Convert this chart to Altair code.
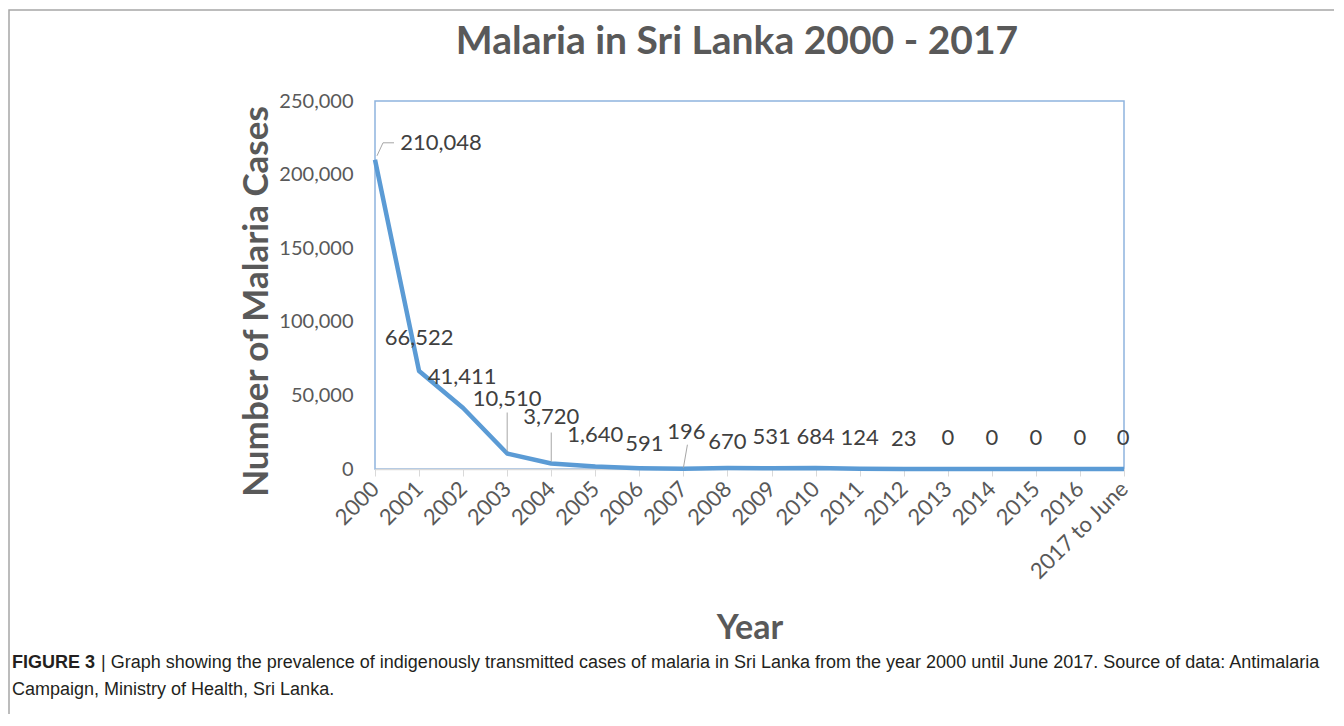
import altair as alt
import pandas as pd

# ---- data ----
years = ["2000", "2001", "2002", "2003", "2004", "2005", "2006", "2007", "2008",
         "2009", "2010", "2011", "2012", "2013", "2014", "2015", "2016", "2017 to June"]
cases = [210048, 66522, 41411, 10510, 3720, 1640, 591, 196, 670,
         531, 684, 124, 23, 0, 0, 0, 0, 0]
labels = ["210,048", "66,522", "41,411", "10,510", "3,720", "1,640", "591", "196", "670",
          "531", "684", "124", "23", "0", "0", "0", "0", "0"]
y_ticks = [0, 50000, 100000, 150000, 200000, 250000]
Y_MAX = 250000

# ---- label placement (pixel offsets from each point, styling only) ----
label_dx = [66, 0, -1, 0, 0, 0, 5, 3, 0, 0, 0, 0, 0, 0, 0, 0, 0, -1]
label_dy = [-17, -33, -31, -55, -47, -32, -24, -37, -26, -31, -31, -31, -30, -31, -31, -31, -31, -31]

# leader lines: (year, pixel offsets of vertices from the point)
leader_years = ["2000", "2003", "2004", "2007"]
leader_dx = [[2, 8, 19], [0, 0], [0, 0], [0, 4]]
leader_dy = [[-4, -17, -17], [-2, -41], [-2, -31], [-1, -24]]

title_text = "Malaria in Sri Lanka 2000 - 2017"
caption_bold = "FIGURE 3"
caption_line1 = "| Graph showing the prevalence of indigenously transmitted cases of malaria in Sri Lanka from the year 2000 until June 2017. Source of data: Antimalaria"
caption_line2 = "Campaign, Ministry of Health, Sri Lanka."

GRAY = "#595959"
W, H = 749, 368
PAD_L, PAD_T = 367, 93
PX = Y_MAX / H  # data units per pixel

df = pd.DataFrame({"year": years, "cases": cases, "label": labels,
                   "dx": label_dx, "dy": label_dy})

rows = []
for i, yr in enumerate(leader_years):
    v = cases[years.index(yr)]
    for k, (ox, oy) in enumerate(zip(leader_dx[i], leader_dy[i])):
        rows.append({"year": yr, "cases": v, "lid": i, "ord": k, "ox": ox, "oy": oy})
leaders = pd.DataFrame(rows)

y_scale = alt.Scale(domain=[0, Y_MAX], nice=False)
x_scale = alt.Scale(type="point", padding=0)

x_axis = alt.Axis(title="Year", labelAngle=-45, labelAlign="right",
                  labelBaseline="middle", labelFontSize=22,
                  labelColor=GRAY, labelPadding=9,
                  domainColor="#d9d9d9", tickColor="#d9d9d9",
                  tickSize=7, domainWidth=1.5,
                  titleFontSize=34, titleFontWeight="bold",
                  titleColor=GRAY, titlePadding=28)
y_axis = alt.Axis(title="Number of Malaria Cases", values=y_ticks,
                  labelExpr="format(datum.value, ',')",
                  grid=False, domain=False, ticks=False,
                  labelFontSize=20, labelColor=GRAY, labelPadding=22,
                  titleFontSize=35, titleFontWeight="bold",
                  titleColor=GRAY, titlePadding=4, titleY=200)

x_enc = alt.X("year:N", sort=years, scale=x_scale, axis=x_axis)
y_enc = alt.Y("cases:Q", scale=y_scale, axis=y_axis)
y_lab = alt.Y("ly:Q", scale=y_scale, axis=y_axis)

base = alt.Chart(df)

border = base.mark_rect(fill=None, stroke="#a6a6a6", strokeWidth=1.5).encode(
    x=alt.value(-366), x2=alt.value(1200), y=alt.value(-91), y2=alt.value(800)
).transform_filter("datum.year == '2000'")

title = base.mark_text(fontSize=39, fontWeight="bold", color=GRAY, align="center",
                       baseline="middle", font="Lato").encode(
    x=alt.value(737 - 8 - PAD_L), y=alt.value(42 - 8 - PAD_T),
    text=alt.value(title_text)
).transform_filter("datum.year == '2000'")

line = base.mark_line(color="#5B9BD5", strokeWidth=4.5, strokeJoin="round").encode(
    x=x_enc, y=y_enc)

leader_layer = alt.Chart(leaders).transform_calculate(
    ly=f"datum.cases - datum.oy * {PX}"
).mark_line(color="#a6a6a6", strokeWidth=1).encode(
    x=x_enc,
    y=y_lab,
    xOffset=alt.XOffset("ox:Q", scale=None),
    detail="lid:N",
    order="ord:Q")

text = base.transform_calculate(
    ly=f"datum.cases - datum.dy * {PX}"
).mark_text(fontSize=22, color="#404040", baseline="middle", align="center").encode(
    x=x_enc,
    y=y_lab,
    xOffset=alt.XOffset("dx:Q", scale=None),
    text="label:N")

CAP_X = 12 - 8 - PAD_L
CAP_Y1 = 663 - 8 - PAD_T
CAP_Y2 = 690 - 8 - PAD_T
cap_b = alt.Chart(pd.DataFrame({"t": [caption_bold]})).mark_text(
    fontSize=18, fontWeight="bold", color="#231f20", align="left", baseline="middle",
    font="Liberation Sans").encode(x=alt.value(CAP_X), y=alt.value(CAP_Y1), text="t:N")
cap_1 = alt.Chart(pd.DataFrame({"t": [caption_line1]})).mark_text(
    fontSize=18, color="#231f20", align="left", baseline="middle",
    font="Liberation Sans").encode(x=alt.value(CAP_X + 89), y=alt.value(CAP_Y1), text="t:N")
cap_2 = alt.Chart(pd.DataFrame({"t": [caption_line2]})).mark_text(
    fontSize=18, color="#231f20", align="left", baseline="middle",
    font="Liberation Sans").encode(x=alt.value(CAP_X), y=alt.value(CAP_Y2), text="t:N")

chart = alt.layer(border, title, line, leader_layer, text, cap_b, cap_1, cap_2).properties(
    width=W, height=H,
    autosize=alt.AutoSizeParams(type="none"),
    padding={"left": PAD_L, "top": PAD_T, "right": 1326 - PAD_L - W,
             "bottom": 706 - PAD_T - H},
).configure(font="Lato").configure_view(stroke="#8FB4DE", strokeWidth=1.5)

chart.save("out.html", embed_options={"renderer": "svg", "actions": False})
